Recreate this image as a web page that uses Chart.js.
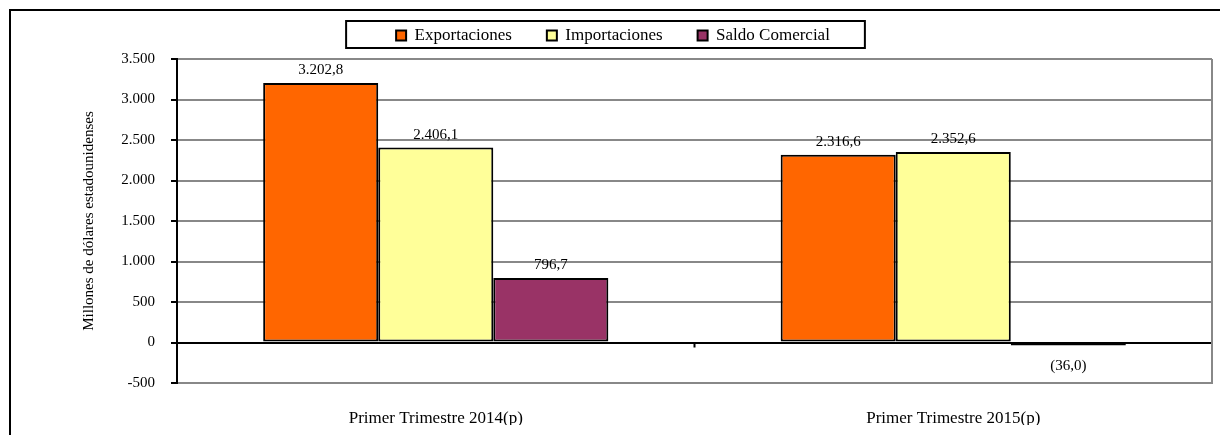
<!DOCTYPE html>
<html lang="es">
<head>
    <meta charset="UTF-8">
    <title>Balanza comercial</title>
    <style>
        html, body { margin: 0; padding: 0; background: #fff; overflow: hidden; }
        .frame { position: absolute; left: 9px; top: 9px; width: 1400px; height: 600px; border: 2px solid #000; }
        .main { position: absolute; left: 0; top: 0; width: 1220px; height: 435px; }
    </style>
</head>
<body>
    <div class="frame"></div>
    <div class="main">
        <canvas id="myChart" width="1220" height="435"></canvas>
    </div>

    <script src="https://cdn.jsdelivr.net/npm/chart.js"></script>
<script>
    // data
    const categories = ['Primer Trimestre 2014(p)', 'Primer Trimestre 2015(p)'];
    const exportaciones = [3202.8, 2316.6];
    const importaciones = [2406.1, 2352.6];
    const saldoComercial = [796.7, -36.0];
    const yTicks = [-500, 0, 500, 1000, 1500, 2000, 2500, 3000, 3500];
    const yTickLabels = ['-500', '0', '500', '1.000', '1.500', '2.000', '2.500', '3.000', '3.500'];

    const serif = "'Liberation Serif', 'DejaVu Serif', serif";

    let fmt = (v) => {
        let s = Math.abs(v).toFixed(1).split('.');
        let ent = s[0].replace(/\B(?=(\d{3})+(?!\d))/g, '.');
        let txt = ent + ',' + s[1];
        return v < 0 ? '(' + txt + ')' : txt;
    };

    // value labels above / below bars
    const barLabels = {
        id: 'barLabels',
        afterDatasetsDraw(chart) {
            const ctx = chart.ctx;
            ctx.save();
            ctx.font = '15px ' + serif;
            ctx.fillStyle = '#000';
            ctx.textAlign = 'center';
            ctx.textBaseline = 'middle';
            chart.data.datasets.forEach((ds, i) => {
                chart.getDatasetMeta(i).data.forEach((bar, j) => {
                    let v = ds.data[j];
                    let y = v >= 0 ? bar.y - 13 : bar.base + 23;
                    ctx.fillText(fmt(v), bar.x, y);
                });
            });
            ctx.restore();
        }
    };

    // fixed legend height so the plot starts where the original one does
    const legendFit = {
        id: 'legendFit',
        afterInit(chart) {
            const lg = chart.legend;
            if (!lg) return;
            const orig = lg.fit;
            lg.fit = function () {
                orig.call(this);
                this.height = 59;
            };
        },
        afterLayout(chart) {
            // pull legend row up and to the left a bit
            const lg = chart.legend;
            if (lg) {
                lg.top -= 8;
                lg.bottom -= 8;
                lg.left -= 31;
                lg.right -= 31;
            }
        }
    };

    // legend frame, plot right edge and the small tick on the zero line
    const extras = {
        id: 'extras',
        afterDraw(chart) {
            const ctx = chart.ctx;
            const lg = chart.legend;
            if (lg && lg.legendHitBoxes && lg.legendHitBoxes.length) {
                let boxes = lg.legendHitBoxes;
                let l = boxes[0].left - 50;
                let r = boxes[boxes.length - 1].left + boxes[boxes.length - 1].width + 35;
                let t = boxes[0].top - 6;
                let b = boxes[0].top + boxes[0].height + 4;
                ctx.save();
                ctx.strokeStyle = '#000';
                ctx.lineWidth = 2;
                ctx.strokeRect(l, t, r - l, b - t);
                ctx.restore();
            }
            const xs = chart.scales.x, ys = chart.scales.y;
            const area = chart.chartArea;
            ctx.save();
            ctx.strokeStyle = '#888';
            ctx.lineWidth = 2;
            ctx.beginPath();
            ctx.moveTo(area.right, area.top);
            ctx.lineTo(area.right, area.bottom);
            ctx.stroke();
            let mx = (xs.getPixelForValue(0) + xs.getPixelForValue(1)) / 2;
            let zy = ys.getPixelForValue(0);
            ctx.strokeStyle = '#000';
            ctx.beginPath();
            ctx.moveTo(mx, zy);
            ctx.lineTo(mx, zy + 5);
            ctx.stroke();
            ctx.restore();
        }
    };

    const canvas = document.getElementById('myChart');

    new Chart(canvas, {
        type: 'bar',
        data: {
            labels: categories,
            datasets: [
                { label: 'Exportaciones', data: exportaciones, backgroundColor: '#FF6600', borderColor: '#000', borderWidth: 2 },
                { label: 'Importaciones', data: importaciones, backgroundColor: '#FFFF99', borderColor: '#000', borderWidth: 2 },
                { label: 'Saldo Comercial', data: saldoComercial, backgroundColor: '#993366', borderColor: '#000', borderWidth: 2 }
            ]
        },
        options: {
            responsive: false,
            animation: false,
            devicePixelRatio: 1,
            layout: { padding: { left: 76, right: 8, top: 0, bottom: 10 } },
            datasets: {
                bar: { categoryPercentage: 0.667, barPercentage: 1.0, borderSkipped: false }
            },
            plugins: {
                tooltip: { enabled: false },
                legend: {
                    position: 'top',
                    labels: {
                        font: { family: serif, size: 17 },
                        color: '#000',
                        boxWidth: 10,
                        boxHeight: 10,
                        padding: 35,
                        useBorderRadius: false
                    }
                }
            },
            scales: {
                x: {
                    afterFit: (scale) => { scale.height = 42; },
                    grid: { display: false, drawTicks: false },
                    border: { display: true, color: '#888', width: 2 },
                    ticks: { font: { family: serif, size: 17 }, color: '#000', padding: 25, maxRotation: 0 }
                },
                y: {
                    min: -500,
                    max: 3500,
                    afterBuildTicks: (scale) => { scale.ticks = yTicks.map(v => ({ value: v })); },
                    afterFit: (scale) => { scale.width = 101; },
                    grid: {
                        color: (c) => c.tick && c.tick.value === 0 ? '#000' : '#888',
                        lineWidth: 2,
                        tickColor: '#000',
                        tickLength: 6
                    },
                    border: { display: true, color: '#000', width: 2 },
                    ticks: {
                        font: { family: serif, size: 15 },
                        color: '#000',
                        padding: 16,
                        callback: (v) => {
                            let k = yTicks.indexOf(v);
                            return k >= 0 ? yTickLabels[k] : '';
                        }
                    },
                    title: {
                        display: true,
                        text: 'Millones de dólares estadounidenses',
                        font: { family: serif, size: 15 },
                        color: '#000'
                    }
                }
            }
        },
        plugins: [legendFit, barLabels, extras]
    });
</script>
</body>
</html>
